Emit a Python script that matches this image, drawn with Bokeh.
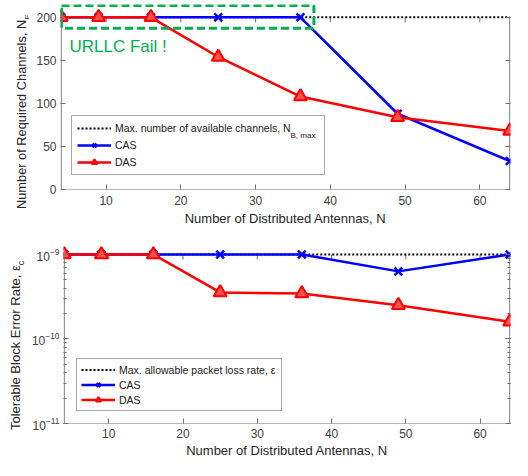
import numpy as np
from bokeh.plotting import figure
from bokeh.layouts import column, row
from bokeh.models import (Range1d, FixedTicker, LinearAxis, LogAxis, BoxAnnotation, Label,
                          Legend, LegendItem, LogTicker, Div)
from bokeh.embed import file_html
from bokeh.resources import INLINE

# ---------------- data ----------------
n_antennas = [4, 9, 16, 25, 36, 49, 64]
ne_cas = [200, 200, 200, 200, 200, 88, 33]
ne_das = [200, 200, 200, 154, 108, 84, 68]
ne_max = 200
bler_cas = [1e-9, 1e-9, 1e-9, 1e-9, 1e-9, 6.3e-10, 1e-9]
bler_das = [1e-9, 1e-9, 1e-9, 3.55e-10, 3.45e-10, 2.5e-10, 1.6e-10]
eps_max = 1e-9
x_ticks = [10, 20, 30, 40, 50, 60]
y_ticks_top = [0, 50, 100, 150, 200]
x_lim = (4, 64)
y_lim_top = (0, 200)
y_lim_bot = (1e-11, 1e-9)

FONT = "Liberation Sans"
AX_COL = "#707070"
TXT_COL = "#404040"
LBL_COL = "#262626"
GREEN = "#00B050"
BLUE = "#0000FF"
RED = "#FF0000"

# ---------------- layout (pixels) ----------------
W = 512
LAB_W = 28                                    # strip holding the rotated y-axis titles
LEFT, RIGHT = 60, 2                           # frame left edge on the page, right border
FRAME_W = W - LEFT - RIGHT
X_PAD = 0.1                                   # keep frame edges just inside the plot area
px_x = FRAME_W / (x_lim[1] - x_lim[0] + 2 * X_PAD)

TOP_H, TOP_T, TOP_FRAME = 228, 4, 187         # frame 4..191
TOP_LIM_PX = 17                               # y of the 200 line
px_top = (TOP_T + TOP_FRAME - TOP_LIM_PX) / (y_lim_top[1] - y_lim_top[0])
top_end = y_lim_top[1] + (TOP_LIM_PX - TOP_T) / px_top

BOT_H, BOT_T, BOT_FRAME = 232, 12, 184        # frame 12..196 (page 240..424)
BOT_LIM_PX = 26                               # y of the 1e-9 line inside figure 2
dec_px = (BOT_T + BOT_FRAME - BOT_LIM_PX) / 2.0
bot_end = y_lim_bot[1] * 10 ** ((BOT_LIM_PX - BOT_T) / dec_px)


def xd(px):
    return x_lim[0] - X_PAD + (px - LEFT) / px_x


def yd_top(py):
    return (TOP_T + TOP_FRAME - py) / px_top


def style_axis(ax, labels=True):
    ax.axis_line_color = AX_COL
    ax.major_tick_line_color = AX_COL
    ax.minor_tick_line_color = AX_COL
    ax.major_tick_in = 5
    ax.major_tick_out = 0
    ax.minor_tick_in = 3
    ax.minor_tick_out = 0
    ax.major_label_text_font = FONT
    ax.major_label_text_font_size = "12px" if labels else "0px"
    ax.major_label_text_color = TXT_COL if labels else None
    ax.axis_label_text_font = FONT
    ax.axis_label_text_font_size = "13px"
    ax.axis_label_text_font_style = "normal"
    ax.axis_label_text_color = LBL_COL


def base_fig(height, y_range, y_type, top_border, bottom_border):
    p = figure(width=W - LAB_W, height=height, output_backend="svg", toolbar_location=None,
               x_range=Range1d(x_lim[0] - X_PAD, x_lim[1] + X_PAD), y_range=y_range,
               y_axis_type=y_type, min_border_left=LEFT - LAB_W, min_border_right=RIGHT,
               min_border_top=top_border, min_border_bottom=bottom_border)
    p.outline_line_color = None
    p.xgrid.visible = False
    p.ygrid.visible = False
    p.background_fill_color = "white"
    p.border_fill_color = "white"
    p.xaxis.ticker = FixedTicker(ticks=x_ticks)
    p.xaxis.axis_label = "Number of Distributed Antennas, N"
    style_axis(p.below[0])
    style_axis(p.left[0])
    p.below[0].minor_tick_line_color = None
    p.below[0].axis_line_color = None
    p.left[0].major_label_standoff = 4
    p.left[0].axis_line_color = None
    return p


def label_strip(height, main_text, sub_text, cx, bottom, size, sub_size):
    # rotated y-axis title with a real subscript, reading bottom-to-top
    html = (
        f'<div style="position:absolute; left:{cx - size / 2:.1f}px; top:{bottom}px; '
        f'transform-origin:0 0; transform:rotate(-90deg); white-space:nowrap; '
        f'line-height:1; font-family:\'{FONT}\'; font-size:{size}px; color:{LBL_COL};">'
        f'{main_text}<sub style="font-size:{sub_size}px; line-height:0;">{sub_text}</sub></div>'
    )
    return Div(text=html, width=LAB_W, height=height, margin=0,
               styles={"position": "relative", "overflow": "visible"})


def frame_lines(p, y0, y1, tick_end):
    # frame box up to the axis limit, plus top ticks hanging from the limit
    p.segment(x0=[x_lim[0], x_lim[1], x_lim[0]], y0=[y0, y0, y0],
              x1=[x_lim[0], x_lim[1], x_lim[1]], y1=[y1, y1, y0],
              line_color=AX_COL, line_width=1)
    p.segment(x0=x_ticks, y0=[y1] * len(x_ticks), x1=x_ticks, y1=[tick_end] * len(x_ticks),
              line_color=AX_COL, line_width=1)


def add_right_axis(p, ax):
    style_axis(ax, labels=False)
    ax.axis_line_color = None
    ax.major_label_standoff = 0
    p.add_layout(ax, "right")


def style_legend(lg, glyph_h, label_w, spacing, padding):
    lg.label_text_font = FONT
    lg.label_text_font_size = "10.5px"
    lg.label_text_color = "#202020"
    lg.glyph_width = 34
    lg.glyph_height = glyph_h
    lg.label_height = glyph_h
    lg.label_width = label_w
    lg.spacing = spacing
    lg.padding = padding
    lg.label_standoff = 4
    lg.border_line_color = "#555555"
    lg.background_fill_alpha = 0
    lg.margin = 0


# ---------------- top figure ----------------
p1 = base_fig(TOP_H, Range1d(y_lim_top[0], top_end), "linear", TOP_T, TOP_H - TOP_T - TOP_FRAME)
p1.yaxis.ticker = FixedTicker(ticks=y_ticks_top)
p1.left[0].minor_tick_line_color = None
p1.below[0].major_label_standoff = 6
p1.below[0].axis_label_standoff = 3
add_right_axis(p1, LinearAxis(ticker=FixedTicker(ticks=y_ticks_top)))
frame_lines(p1, y_lim_top[0], y_lim_top[1], y_lim_top[1] - 5 / px_top)

r_max1 = p1.line(n_antennas, [ne_max] * len(n_antennas), line_color="black",
                 line_width=2, line_dash="2 2")
r_cas1l = p1.line(n_antennas, ne_cas, line_color=BLUE, line_width=2.5)
r_cas1m = p1.scatter(n_antennas, ne_cas, marker="x", size=11, line_color=BLUE, line_width=2.5)
r_das1l = p1.line(n_antennas, ne_das, line_color=RED, line_width=2.5)
r_das1m = p1.scatter(n_antennas, ne_das, marker="triangle", size=13, line_color=RED,
                     fill_color="#FF5050", line_width=2)

p1.add_layout(BoxAnnotation(left=xd(61), right=37.8, top=yd_top(5), bottom=yd_top(28),
                            fill_alpha=0, line_color=GREEN, line_alpha=1, line_width=3,
                            line_dash="8 4"))
p1.add_layout(Label(x=xd(69), y=yd_top(46), text="URLLC Fail !", text_color=GREEN,
                    text_font=FONT, text_font_size="17px", text_baseline="middle"))

leg1 = Legend(items=[
    LegendItem(label="Max. number of available channels, N", renderers=[r_max1]),
    LegendItem(label="CAS", renderers=[r_cas1l, r_cas1m]),
    LegendItem(label="DAS", renderers=[r_das1l, r_das1m]),
], location=(11, 14))
style_legend(leg1, 14, 204, 3, 5)
p1.add_layout(leg1, "center")
p1.add_layout(Label(x=xd(290), y=yd_top(136), text="B, max", text_font=FONT,
                    text_font_size="8px", text_color="#202020", text_baseline="middle"))
s1 = label_strip(TOP_H, "Number of Required Channels, N", "E", 22, 209, 12.8, 8)

# ---------------- bottom figure ----------------
p2 = base_fig(BOT_H, Range1d(y_lim_bot[0], bot_end), "log", BOT_T, BOT_H - BOT_T - BOT_FRAME)
p2.left[0].ticker = LogTicker(num_minor_ticks=10)
p2.below[0].major_label_standoff = 5
p2.below[0].axis_label_standoff = 2
add_right_axis(p2, LogAxis(ticker=LogTicker(num_minor_ticks=10)))
frame_lines(p2, y_lim_bot[0], y_lim_bot[1], y_lim_bot[1] * 10 ** (-5 / dec_px))

r_max2 = p2.line(n_antennas, [eps_max] * len(n_antennas), line_color="black",
                 line_width=2, line_dash="2 2")
r_cas2l = p2.line(n_antennas, bler_cas, line_color=BLUE, line_width=2.5)
r_cas2m = p2.scatter(n_antennas, bler_cas, marker="x", size=11, line_color=BLUE, line_width=2.5)
r_das2l = p2.line(n_antennas, bler_das, line_color=RED, line_width=2.5)
r_das2m = p2.scatter(n_antennas, bler_das, marker="triangle", size=13, line_color=RED,
                     fill_color="#FF5050", line_width=2)

leg2 = Legend(items=[
    LegendItem(label="Max. allowable packet loss rate, ε", renderers=[r_max2]),
    LegendItem(label="CAS", renderers=[r_cas2l, r_cas2m]),
    LegendItem(label="DAS", renderers=[r_das2l, r_das2m]),
], location=(13, 12))
style_legend(leg2, 13, 158, 2, 4)
p2.add_layout(leg2, "center")
s2 = label_strip(BOT_H, "Tolerable Block Error Rate, ε", "c", 15, 202, 13, 9)

layout = column(row(s1, p1, spacing=0), row(s2, p2, spacing=0), spacing=0)
open("out.html", "w").write(file_html(layout, INLINE))
